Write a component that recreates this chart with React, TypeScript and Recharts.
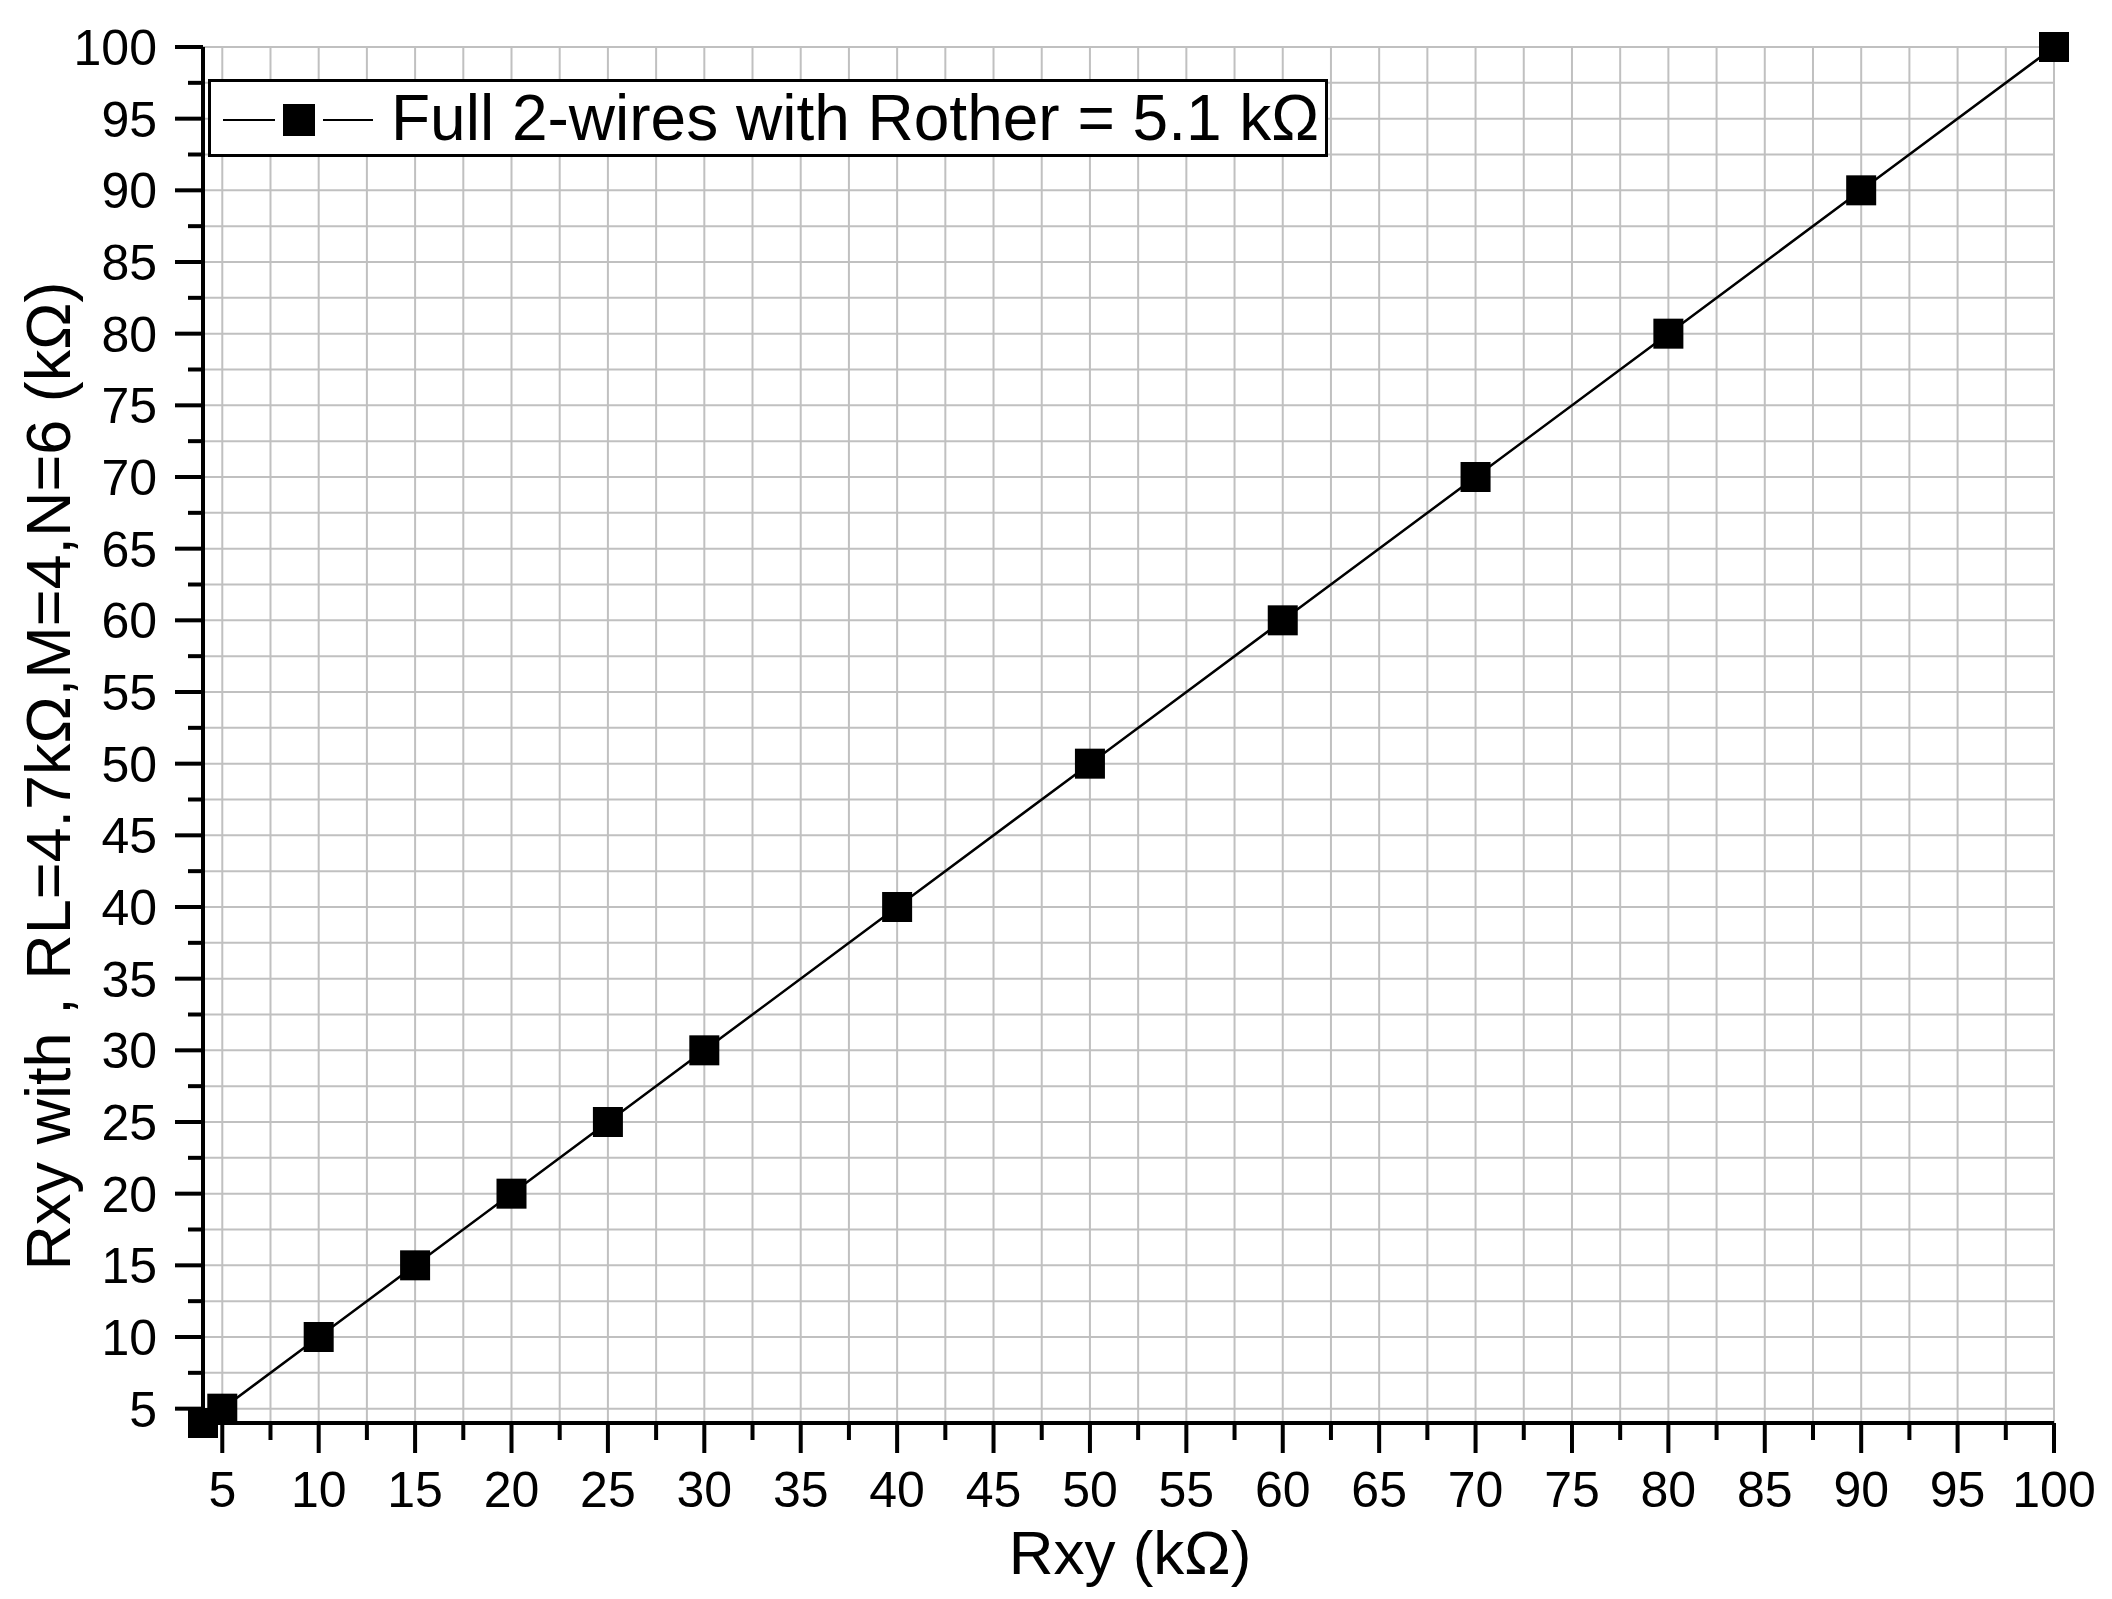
import { LineChart, Line, XAxis, YAxis, CartesianGrid } from "recharts";

const FONT = "'Liberation Sans', Arial, sans-serif";

// measured points (Rxy vs Rxy with wiring)
const rxy = [4, 5, 10, 15, 20, 25, 30, 40, 50, 60, 70, 80, 90, 100];
const rxyWith = [4, 5, 10, 15, 20, 25, 30, 40, 50, 60, 70, 80, 90, 100];

const axisTicks = [
  5, 7.5, 10, 12.5, 15, 17.5, 20, 22.5, 25, 27.5, 30, 32.5, 35, 37.5, 40, 42.5,
  45, 47.5, 50, 52.5, 55, 57.5, 60, 62.5, 65, 67.5, 70, 72.5, 75, 77.5, 80,
  82.5, 85, 87.5, 90, 92.5, 95, 97.5, 100,
];

const seriesName = "Full 2-wires with Rother = 5.1 kΩ";
const xTitle = "Rxy (kΩ)";
const yTitle = "Rxy with , RL=4.7kΩ,M=4,N=6 (kΩ)";

const data = rxy.map((x, i) => ({ x, y: rxyWith[i] }));

const isMajor = (v: number) => v % 5 === 0;

function XTick(props: any) {
  const { x, y, payload } = props;
  const major = isMajor(payload.value);
  return (
    <g>
      <line x1={x} x2={x} y1={y} y2={y + (major ? 30 : 17)} stroke="#000" strokeWidth={4} />
      {major && (
        <text x={x} y={y + 84} textAnchor="middle" fontSize={50} fontFamily={FONT} fill="#000">
          {payload.value}
        </text>
      )}
    </g>
  );
}

function YTick(props: any) {
  const { x, y, payload } = props;
  const major = isMajor(payload.value);
  return (
    <g>
      <line x1={x} x2={x - (major ? 28 : 15)} y1={y} y2={y} stroke="#000" strokeWidth={4} />
      {major && (
        <text x={x - 46} y={y + 18} textAnchor="end" fontSize={50} fontFamily={FONT} fill="#000">
          {payload.value}
        </text>
      )}
    </g>
  );
}

function SquareDot(props: any) {
  const { cx, cy } = props;
  if (cx == null || cy == null) return null;
  return <rect x={cx - 15} y={cy - 15} width={30} height={30} fill="#000" />;
}

function LegendBox() {
  return (
    <div
      style={{
        position: "absolute",
        left: 208,
        top: 79,
        width: 1114,
        height: 72,
        border: "3px solid #000",
        background: "#fff",
        display: "flex",
        alignItems: "center",
        fontFamily: FONT,
        fontSize: 64,
        color: "#000",
        whiteSpace: "nowrap",
      }}
    >
      <svg width={180} height={72} style={{ flex: "none" }}>
        <line x1={12} x2={64} y1={38} y2={38} stroke="#000" strokeWidth={2} />
        <rect x={72} y={22} width={32} height={32} fill="#000" />
        <line x1={112} x2={162} y1={38} y2={38} stroke="#000" strokeWidth={2} />
      </svg>
      <span style={{ lineHeight: "72px" }}>{seriesName}</span>
    </div>
  );
}

export default function App() {
  return (
    <div style={{ position: "absolute", left: 0, top: 0, width: 2112, height: 1599, background: "#fff" }}>
      <LineChart
        width={2112}
        height={1599}
        data={data}
        margin={{ top: 47, right: 58, left: 0, bottom: 0 }}
      >
        <CartesianGrid stroke="#c0c0c0" strokeWidth={2} />
        <XAxis
          dataKey="x"
          type="number"
          domain={[4, 100]}
          ticks={axisTicks}
          interval={0}
          height={176}
          tickSize={0}
          tickMargin={0}
          tick={<XTick />}
          axisLine={{ stroke: "#000", strokeWidth: 4 }}
          label={{
            content: () => (
              <text x={1130} y={1574} textAnchor="middle" fontSize={62} fontFamily={FONT} fill="#000">
                {xTitle}
              </text>
            ),
          }}
        />
        <YAxis
          type="number"
          domain={[4, 100]}
          ticks={axisTicks}
          interval={0}
          width={203}
          tickSize={0}
          tickMargin={0}
          tick={<YTick />}
          axisLine={{ stroke: "#000", strokeWidth: 4 }}
          label={{
            content: () => (
              <text
                x={70}
                y={776}
                transform="rotate(-90 70 776)"
                textAnchor="middle"
                fontSize={63}
                fontFamily={FONT}
                fill="#000"
              >
                {yTitle}
              </text>
            ),
          }}
        />
        <Line
          type="linear"
          dataKey="y"
          name={seriesName}
          stroke="#000"
          strokeWidth={2.5}
          dot={<SquareDot />}
          activeDot={false}
          isAnimationActive={false}
        />
      </LineChart>
      <LegendBox />
    </div>
  );
}
